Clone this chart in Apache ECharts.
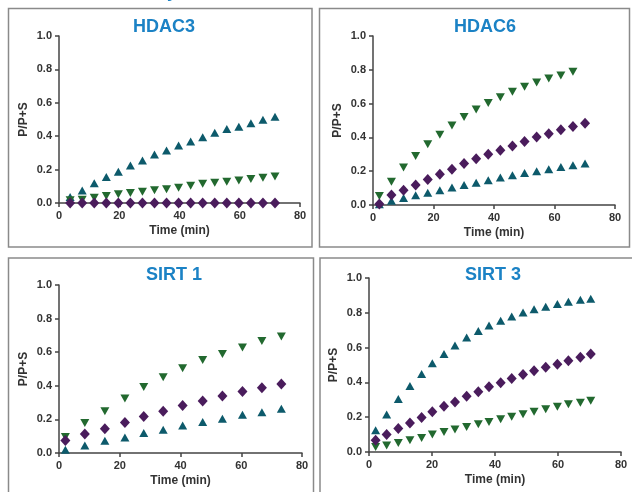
<!DOCTYPE html>
<html>
<head>
<meta charset="utf-8">
<script src="https://cdn.jsdelivr.net/npm/echarts@6/dist/echarts.min.js"></script>
<style>
  html, body { margin: 0; padding: 0; background: #fff; }
  #main { width: 632px; height: 492px; }
</style>
</head>
<body>
<div id="main"></div>
<script>
// HDAC3
const hdac3Time = [3.7, 7.7, 11.7, 15.7, 19.7, 23.7, 27.7, 31.7, 35.7, 39.7, 43.7, 47.7, 51.7, 55.7, 59.7, 63.7, 67.7, 71.7];
const hdac3Up = [0.036, 0.075, 0.119, 0.155, 0.187, 0.225, 0.254, 0.29, 0.314, 0.344, 0.368, 0.394, 0.42, 0.443, 0.457, 0.477, 0.499, 0.517];
const hdac3Down = [0.016, 0.02, 0.032, 0.042, 0.052, 0.06, 0.068, 0.076, 0.083, 0.091, 0.103, 0.115, 0.121, 0.127, 0.135, 0.143, 0.151, 0.159];
const hdac3Dia = [0, 0, 0, 0, 0, 0, 0, 0, 0, 0, 0, 0, 0, 0, 0, 0, 0, 0];

// HDAC6
const hdac6Time = [2.1, 6.1, 10.1, 14.1, 18.1, 22.1, 26.1, 30.1, 34.1, 38.1, 42.1, 46.1, 50.1, 54.1, 58.1, 62.1, 66.1, 70.1];
const hdac6Up = [0.005, 0.025, 0.042, 0.058, 0.073, 0.088, 0.104, 0.118, 0.132, 0.147, 0.162, 0.176, 0.19, 0.2, 0.212, 0.225, 0.235, 0.245];
const hdac6Down = [0.053, 0.137, 0.222, 0.29, 0.359, 0.416, 0.47, 0.52, 0.565, 0.604, 0.637, 0.67, 0.7, 0.725, 0.749, 0.767, 0.788];
const hdac6Dia = [0.006, 0.059, 0.088, 0.118, 0.151, 0.182, 0.212, 0.245, 0.273, 0.3, 0.324, 0.349, 0.376, 0.402, 0.422, 0.445, 0.465, 0.484];

// SIRT 1
const sirt1Time = [2.1, 8.5, 15.1, 21.7, 27.9, 34.3, 40.7, 47.3, 53.8, 60.4, 66.8, 73.2];
const sirt1Up = [0.02, 0.045, 0.073, 0.093, 0.119, 0.138, 0.164, 0.184, 0.204, 0.227, 0.243, 0.263];
const sirt1Down = [0.095, 0.178, 0.249, 0.324, 0.393, 0.451, 0.504, 0.553, 0.589, 0.628, 0.666, 0.694];
const sirt1Dia = [0.075, 0.113, 0.144, 0.182, 0.217, 0.249, 0.283, 0.31, 0.34, 0.366, 0.389, 0.411];

// SIRT 3
const sirt3Time = [2.1, 5.6, 9.3, 13.0, 16.7, 20.1, 23.8, 27.3, 31.0, 34.7, 38.1, 41.8, 45.3, 48.9, 52.4, 56.1, 59.8, 63.3, 67.1, 70.4];
const sirt3Up = [0.125, 0.215, 0.304, 0.379, 0.448, 0.51, 0.563, 0.612, 0.658, 0.696, 0.727, 0.754, 0.779, 0.802, 0.821, 0.835, 0.85, 0.863, 0.875, 0.881];
const sirt3Down = [0.029, 0.038, 0.052, 0.067, 0.081, 0.1, 0.115, 0.129, 0.144, 0.16, 0.173, 0.188, 0.202, 0.217, 0.231, 0.246, 0.26, 0.275, 0.283, 0.294];
const sirt3Dia = [0.067, 0.1, 0.135, 0.167, 0.198, 0.231, 0.263, 0.288, 0.321, 0.346, 0.375, 0.398, 0.423, 0.446, 0.467, 0.487, 0.504, 0.525, 0.544, 0.563];

const panelTitles = ['HDAC3', 'HDAC6', 'SIRT 1', 'SIRT 3'];
const xTicks = [0, 20, 40, 60, 80];
const yTicks = [0, 0.2, 0.4, 0.6, 0.8, 1.0];

const panels = [
  { time: hdac3Time, up: hdac3Up, down: hdac3Down, dia: hdac3Dia },
  { time: hdac6Time, up: hdac6Up, down: hdac6Down, dia: hdac6Dia },
  { time: sirt1Time, up: sirt1Up, down: sirt1Down, dia: sirt1Dia },
  { time: sirt3Time, up: sirt3Up, down: sirt3Down, dia: sirt3Dia }
];

const grids = [
  { left: 59, top: 36, width: 241, height: 167 },
  { left: 373, top: 36, width: 242, height: 169 },
  { left: 59, top: 285, width: 243, height: 168 },
  { left: 369, top: 278, width: 252, height: 174 }
];
const titlePos = [[164, 27], [485, 27], [174, 275], [493, 275]];
const boxes = [
  [8.5, 8.5, 303.5, 238.5],
  [319.5, 8.5, 310, 238.5],
  [8.5, 258, 305, 260],
  [320, 258, 330, 260]
];

const axisColor = '#444';
const labelFont = { color: '#333', fontSize: 11, fontWeight: 'bold', fontFamily: 'Liberation Sans, Arial' };

const pair = (t, v) => v.map((y, i) => [t[i], y]);

const xAxis = grids.map((g, i) => ({
  gridIndex: i, type: 'value', min: xTicks[0], max: xTicks[xTicks.length - 1], interval: 20,
  name: 'Time (min)', nameLocation: 'middle', nameGap: 22,
  nameTextStyle: { color: '#333', fontSize: 12, fontWeight: 'bold', fontFamily: 'Liberation Sans, Arial' },
  axisLine: { lineStyle: { color: axisColor, width: 1.5 } },
  axisTick: { length: 4, lineStyle: { color: axisColor, width: 1.5 } },
  axisLabel: Object.assign({ margin: 7 }, labelFont),
  splitLine: { show: false }
}));

const yAxis = grids.map((g, i) => ({
  gridIndex: i, type: 'value', min: yTicks[0], max: yTicks[yTicks.length - 1], interval: 0.2,
  name: 'P/P+S', nameLocation: 'middle', nameGap: 29,
  nameTextStyle: { color: '#333', fontSize: 12, fontWeight: 'bold', fontFamily: 'Liberation Sans, Arial' },
  axisLine: { show: true, lineStyle: { color: axisColor, width: 1.5 } },
  axisTick: { show: true, length: 4, lineStyle: { color: axisColor, width: 1.5 } },
  axisLabel: Object.assign({ margin: 7, formatter: v => v.toFixed(1) }, labelFont),
  splitLine: { show: false }
}));

const series = [];
panels.forEach((p, i) => {
  series.push({
    type: 'scatter', xAxisIndex: i, yAxisIndex: i, data: pair(p.time, p.up),
    symbol: 'triangle', symbolSize: [9, 8], itemStyle: { color: '#0d5a6b', opacity: 1 }
  });
  series.push({
    type: 'scatter', xAxisIndex: i, yAxisIndex: i, data: pair(p.time, p.down),
    symbol: 'triangle', symbolRotate: 180, symbolSize: [9, 8], itemStyle: { color: '#22692f', opacity: 1 }
  });
  series.push({
    type: 'scatter', xAxisIndex: i, yAxisIndex: i, data: pair(p.time, p.dia),
    symbol: 'diamond', symbolSize: [10, 11], itemStyle: { color: '#4a1c5c', opacity: 1 }
  });
});

const graphic = [];
boxes.forEach(b => {
  graphic.push({
    type: 'rect', shape: { x: b[0], y: b[1], width: b[2], height: b[3] },
    style: { fill: 'none', stroke: '#8a8a8a', lineWidth: 1.5 }, silent: true
  });
});
panelTitles.forEach((t, i) => {
  graphic.push({
    type: 'text', x: titlePos[i][0], y: titlePos[i][1],
    style: {
      text: t, fill: '#1b82c5', font: 'bold 18px "Liberation Sans", Arial',
      textAlign: 'center', textVerticalAlign: 'middle'
    }
  });
});
// cropped fragment of a heading above the figure
graphic.push({
  type: 'text', x: 172, y: 1,
  style: { text: 'y', fill: '#1b82c5', font: 'bold 18px "Liberation Sans", Arial', textAlign: 'center', textVerticalAlign: 'bottom' }
});

const chart = echarts.init(document.getElementById('main'));
chart.setOption({
  animation: false,
  backgroundColor: '#fff',
  grid: grids,
  xAxis: xAxis,
  yAxis: yAxis,
  series: series,
  graphic: graphic
});
</script>
</body>
</html>
